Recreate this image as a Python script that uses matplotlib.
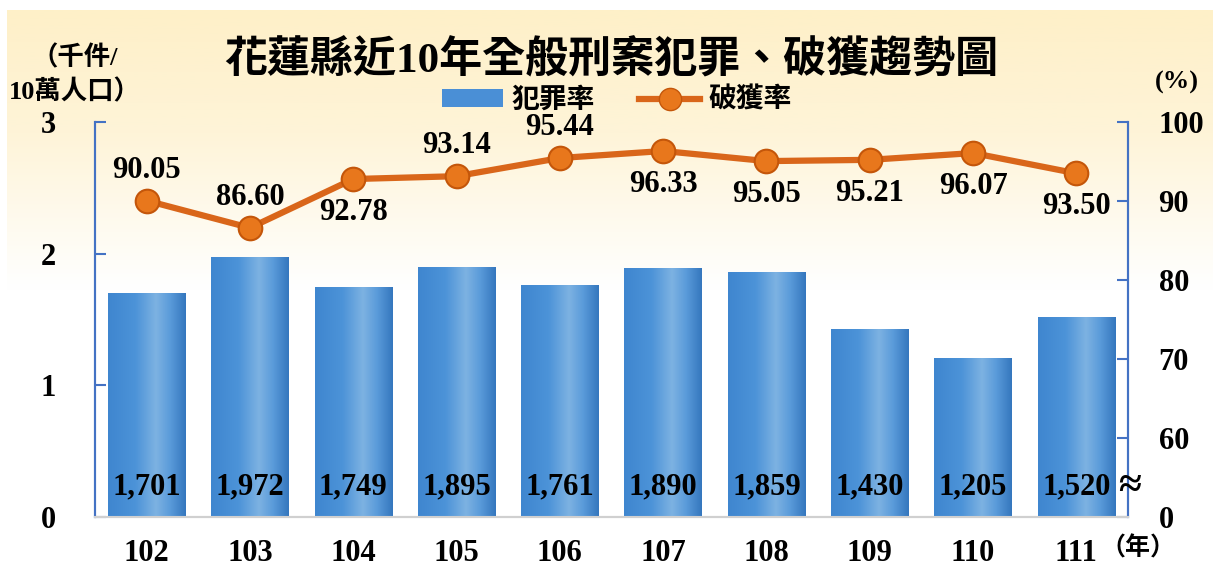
import matplotlib

matplotlib.use("Agg")
import matplotlib.pyplot as plt
import numpy as np
from matplotlib.colors import LinearSegmentedColormap
from matplotlib.lines import Line2D
from matplotlib.patches import Patch

# --- datos ---
years = ["102", "103", "104", "105", "106", "107", "108", "109", "110", "111"]
crime_rate = [1701, 1972, 1749, 1895, 1761, 1890, 1859, 1430, 1205, 1520]  # 件/10萬人口
clear_rate = [90.05, 86.60, 92.78, 93.14, 95.44, 96.33, 95.05, 95.21, 96.07, 93.50]  # %
label_above = [True, True, False, True, True, False, False, False, False, False]

left_ticks = [0, 1, 2, 3]
right_ticks = [50, 60, 70, 80, 90, 100]
right_tick_labels = ["0", "60", "70", "80", "90", "100"]

NUM = ["Liberation Serif", "Noto Sans CJK TC"]
CJK = ["Noto Sans CJK TC", "DejaVu Sans"]
BLUE_AX = "#4472C4"
ORANGE = "#D9661A"

fig = plt.figure(figsize=(12.13, 5.67), dpi=100)

# fondo degradado
bg = fig.add_axes([7 / 1213, 0, 1 - 7 / 1213, 1 - 10 / 567], zorder=-10)
grad = np.linspace(0, 1, 256).reshape(-1, 1)
bg_cmap = LinearSegmentedColormap.from_list(
    "bg", [(0, "#FEF0C8"), (0.22, "#FEF4D8"), (0.5, "#FFFFFF"), (1, "#FFFFFF")]
)
bg.imshow(grad, aspect="auto", cmap=bg_cmap, extent=[0, 1, 0, 1], origin="upper")
bg.axis("off")

ax = fig.add_axes([95 / 1213, 1 - 517 / 567, (1128 - 95) / 1213, (517 - 122) / 567])
ax.set_facecolor("none")
ax2 = ax.twinx()

x = np.arange(len(years))
vals = np.array(crime_rate) / 1000
bars = ax.bar(x, vals, width=0.75, color="#4A8FD6", zorder=2)

bar_cmap = LinearSegmentedColormap.from_list(
    "bar", [(0, "#3F86CF"), (0.35, "#4C93D8"), (0.62, "#7DB2E2"), (0.8, "#5A9BDA"), (1, "#3577BE")]
)
hgrad = np.linspace(0, 1, 128).reshape(1, -1)
for b in bars:
    im = ax.imshow(
        hgrad,
        aspect="auto",
        cmap=bar_cmap,
        extent=[b.get_x(), b.get_x() + b.get_width(), 0, b.get_height()],
        zorder=3,
    )
    im.set_clip_path(b)

for xi, v in zip(x, crime_rate):
    ax.text(xi, 0.23, f"{v:,}", ha="center", va="center", fontsize=22,
            fontweight="bold", family=NUM, zorder=5)

ax.set_xlim(-0.5, len(years) - 0.5)
ax.set_ylim(0, 3)
ax.set_yticks(left_ticks)
ax.set_yticklabels([str(t) for t in left_ticks], fontsize=22, fontweight="bold", family=NUM)
ax.set_xticks(x)
ax.set_xticklabels(years, fontsize=22, fontweight="bold", family=NUM)
ax.tick_params(axis="y", direction="in", length=8, width=1.5, color=BLUE_AX, pad=28)
ax.tick_params(axis="x", length=0, pad=16)

ax2.plot(x, clear_rate, color=ORANGE, lw=4.5, marker="o", markersize=17,
         markerfacecolor="#E8771C", markeredgecolor="#C4560A", markeredgewidth=1.5, zorder=6)
for xi, v, up in zip(x, clear_rate, label_above):
    ax2.annotate(f"{v:.2f}", (xi, v), xytext=(0, 22 if up else -24), textcoords="offset points",
                 ha="center", va="center", fontsize=22, fontweight="bold", family=NUM)
ax2.set_ylim(50, 100)
ax2.set_yticks(right_ticks)
ax2.set_yticklabels(right_tick_labels, fontsize=22, fontweight="bold", family=NUM)
ax2.tick_params(axis="y", direction="in", length=8, width=1.5, color=BLUE_AX, pad=22)

for a in (ax, ax2):
    a.spines["top"].set_visible(False)
    a.spines["left"].set_color(BLUE_AX)
    a.spines["right"].set_color(BLUE_AX)
    a.spines["left"].set_linewidth(1.5)
    a.spines["right"].set_linewidth(1.5)
    a.spines["bottom"].set_color("#D0D0D0")
    a.spines["bottom"].set_linewidth(1.5)

# símbolo de eje cortado
fig.text(1130 / 1213, 1 - 487 / 567, "≈", ha="center", va="center", fontsize=30,
         fontweight="bold", family=NUM)

fig.text(611 / 1213, 1 - 60 / 567, "花蓮縣近10年全般刑案犯罪、破獲趨勢圖", ha="center",
         va="center", fontsize=31, fontweight="bold", family=NUM)
fig.text(75 / 1213, 1 - 58 / 567, "（千件/", ha="center", va="center", fontsize=19,
         fontweight="bold", family=NUM)
fig.text(75 / 1213, 1 - 92 / 567, "10萬人口）", ha="center", va="center", fontsize=19,
         fontweight="bold", family=NUM)
fig.text(1177 / 1213, 1 - 82 / 567, "(%)", ha="center", va="center", fontsize=19,
         fontweight="bold", family=NUM)
fig.text(1138 / 1213, 1 - 548 / 567, "（年）", ha="center", va="center", fontsize=18,
         fontweight="bold", family=NUM)

handles = [
    Patch(facecolor="#4A8FD6", edgecolor="none"),
    Line2D([0], [0], color=ORANGE, lw=4.5, marker="o", markersize=16,
           markerfacecolor="#E8771C", markeredgecolor="#C4560A"),
]
fig.legend(handles, ["犯罪率", "破獲率"], loc="center", bbox_to_anchor=(617 / 1213, 1 - 100 / 567),
           ncol=2, frameon=False, prop={"family": CJK, "size": 20, "weight": "bold"},
           handlelength=2.2, handleheight=0.6, columnspacing=1.6, handletextpad=0.3,
           borderpad=0.1)

plt.savefig("out.png", dpi=100)
plt.close()
